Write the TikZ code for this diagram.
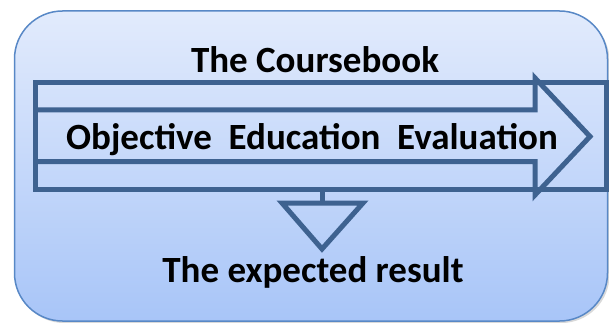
\documentclass[tikz,border=0pt]{standalone}
\usepackage{fontspec}
\setmainfont{Carlito}
\definecolor{boxtop}{RGB}{226,235,252}
\definecolor{boxbot}{RGB}{168,197,248}
\definecolor{boxline}{RGB}{88,136,198}
\definecolor{arrline}{RGB}{62,98,144}
\tikzset{
  lbl/.style={anchor=base, inner sep=0pt, font=\fontsize{37}{44}\selectfont\bfseries, text=black},
  thick line/.style={draw=arrline, line width=5pt, miter limit=10}
}
\begin{document}
\begin{tikzpicture}[x=1pt,y=-1pt]
\useasboundingbox (0,0) rectangle (609,323);
% shadow
\fill[black, opacity=0.15, rounded corners=48pt] (16,13) rectangle (609.5,323);
% main rounded box
\shade[top color=boxtop, bottom color=boxbot, rounded corners=48pt] (14.5,11) rectangle (607.5,321);
\draw[boxline, line width=1.5pt, rounded corners=48pt] (14.5,11) rectangle (607.5,321);
% outer band
\draw[thick line] (35,83) rectangle (606.5,189.5);
% arrow
\draw[thick line] (35,110) -- (535,110) -- (535,78) -- (590,136.5) -- (535,195) -- (535,161.5) -- (35,161.5);
% stem and triangle
\coordinate (stemtop) at (322,189.5);
\coordinate (tri1) at (282,203);
\coordinate (tri2) at (363,203);
\coordinate (tri3) at (322,249);
\coordinate (stembot) at (322,203);
\draw[thick line] (stemtop) -- (stembot);
\draw[thick line] (tri1) -- (tri2) -- (tri3) -- cycle;
% labels
\node[lbl] (course) at (315,72.3) {The Coursebook};
\node[lbl] (main) at (312,149.3) {Objective\ \ Education\ \ Evaluation};
\node[lbl] (result) at (313,282.3) {The expected result};
\end{tikzpicture}
\end{document}
